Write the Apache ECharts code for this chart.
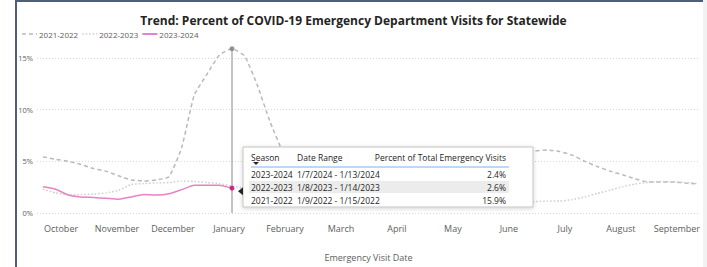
<!DOCTYPE html>
<html><head><meta charset="utf-8">
<script src="https://cdn.jsdelivr.net/npm/echarts@6/dist/echarts.min.js"></script>
<style>html,body{margin:0;padding:0;background:#fff}#c{width:707px;height:267px}</style>
</head><body><div id="c"></div>
<script>
const titleText = 'Trend: Percent of COVID-19 Emergency Department Visits for Statewide';
const seasons = ['2021-2022', '2022-2023', '2023-2024'];
const monthLabels = ['October','November','December','January','February','March','April','May','June','July','August','September'];
const yTicks = [0, 5, 10, 15];
// weekly values (%), week index 0..52 of each season
const s2122 = [5.43,5.2,5.0,4.7,4.3,4.05,3.6,3.2,3.1,3.2,3.5,6.3,11.4,13.4,15.3,15.9,15.2,12.4,8.9,6.0,4.3,2.9,2.0,1.5,1.3,1.2,1.1,1.0,1.0,1.1,1.2,1.4,1.8,2.3,2.9,3.6,4.3,4.9,5.7,6.0,6.1,5.95,5.6,5.0,4.5,4.05,3.7,3.3,3.0,3.0,3.0,2.9,2.8];
const s2223 = [2.3,1.95,1.75,1.78,1.83,1.95,2.2,2.75,2.85,2.9,2.95,3.1,3.05,2.95,2.85,2.6,2.4,2.2,2.0,1.85,1.7,1.6,1.5,1.45,1.4,1.35,1.3,1.3,1.25,1.2,1.15,1.1,1.05,1.0,0.95,0.9,0.85,0.95,1.05,1.1,1.15,1.15,1.3,1.55,1.9,2.2,2.55,2.8,2.95,3.05,3.0,2.95,2.85];
const s2324 = [2.53,2.3,1.75,1.56,1.5,1.42,1.33,1.55,1.8,1.74,1.86,2.26,2.68,2.68,2.68,2.4];
const hoverIndex = 15;
const tipHeader = ['Season', 'Date Range', 'Percent of Total Emergency Visits'];
const tipSeasons = ['2023-2024', '2022-2023', '2021-2022'];
const tipRanges = ['1/7/2024 - 1/13/2024', '1/8/2023 - 1/14/2023', '1/9/2022 - 1/15/2022'];
const tipData = [s2324, s2223, s2122];

const FONT = '"Open Sans", "Noto Sans", sans-serif';
const monthPos = monthLabels.map((m, k) => 1.43 + k * 4.443);
const xy = arr => arr.map((v, i) => [i, v]);
const styles = [
  {color: '#b9b9b9', width: 1.5, type: [4, 3], dash: [4, 3]},
  {color: '#cdcdcd', width: 1.5, type: [1.5, 2], dash: [1.5, 2]},
  {color: '#e882c6', width: 1.5, type: 'solid', dash: null}
];
const seriesData = [s2122, s2223, s2324];

const chart = echarts.init(document.getElementById('c'), null, {renderer: 'svg'});
const series = seasons.map((name, i) => ({
  name, type: 'line', data: xy(seriesData[i]), symbol: 'none', smooth: 0.15, clip: false,
  lineStyle: {color: styles[i].color, width: styles[i].width, type: styles[i].type},
  itemStyle: {color: styles[i].color}, z: i === 2 ? 3 : 2
}));
// hover guide line
series.push({name: 'guide', type: 'line', symbol: 'none', clip: false, z: 4,
  data: [[hoverIndex, s2122[hoverIndex]], [hoverIndex, 0]],
  lineStyle: {color: '#8a8a8a', width: 1}});
series.push({name: 'hover', type: 'scatter', symbolSize: 5, z: 5, clip: false,
  data: [{value: [hoverIndex, s2122[hoverIndex]], itemStyle: {color: '#7a7a7a'}},
         {value: [hoverIndex, s2324[hoverIndex]], itemStyle: {color: '#d0006f'}}]});

chart.setOption({
  animation: false,
  title: {text: titleText, left: 'center', top: 9,
    textStyle: {fontFamily: FONT, fontSize: 12, fontWeight: 'bold', color: '#252423'}},
  grid: {left: 37, right: 7, top: 58, bottom: 45},
  xAxis: {type: 'value', min: -0.476, max: 52.14,
    name: 'Emergency Visit Date', nameLocation: 'middle', nameGap: 40,
    nameTextStyle: {fontFamily: FONT, fontSize: 9, color: '#605e5c'},
    axisLine: {show: false}, axisTick: {show: false}, splitLine: {show: false},
    axisLabel: {customValues: monthPos, fontFamily: FONT, fontSize: 9, color: '#605e5c', margin: 11,
      formatter: v => { const k = monthPos.findIndex(p => Math.abs(p - v) < 0.01); return k >= 0 ? monthLabels[k] : ''; }}},
  yAxis: {type: 'value', min: yTicks[0], max: yTicks[yTicks.length - 1], interval: yTicks[1] - yTicks[0],
    axisLine: {show: false}, axisTick: {show: false},
    axisLabel: {formatter: '{value}%', fontFamily: FONT, fontSize: 7.5, color: '#605e5c', margin: 4},
    splitLine: {lineStyle: {color: '#d6d6d6', type: [1, 2], width: 1}}},
  series
});

const els = [];
// legend (drawn manually to show the line styles)
const ctx = document.createElement('canvas').getContext('2d');
const LEG_FS = 8;
ctx.font = LEG_FS + 'px "Open Sans"';
let lx = 22;
seasons.forEach((s, i) => {
  const st = styles[i];
  els.push({type: 'line', shape: {x1: lx, y1: 34, x2: lx + 15, y2: 34},
    style: {stroke: st.color, lineWidth: i === 2 ? 2 : 1.5, lineDash: st.dash}});
  els.push({type: 'text', x: lx + 17, y: 34,
    style: {text: s, fontFamily: FONT, fontSize: LEG_FS, fill: '#605e5c', verticalAlign: 'middle'}});
  lx += 17 + ctx.measureText(s).width + 4;
});

// tooltip box drawn as graphic, anchored to hovered point
const p = chart.convertToPixel({gridIndex: 0}, [hoverIndex, s2324[hoverIndex]]);
const bx = p[0] + 11, by = 147, bw = 290, bh = 60;
const tf = {fontFamily: FONT, fontSize: 8.5, fill: '#252423'};
els.push(
  {type: 'rect', shape: {x: bx, y: by, width: bw, height: bh},
    style: {fill: '#fff', stroke: '#c4c4c4', lineWidth: 1, shadowBlur: 4, shadowColor: 'rgba(0,0,0,0.18)', shadowOffsetY: 1}},
  {type: 'polygon', shape: {points: [[bx - 5, p[1] + 3], [bx, p[1] - 1], [bx, p[1] + 7]]}, style: {fill: '#252423'}},
  {type: 'rect', shape: {x: bx + 6, y: by + 34, width: 260, height: 12}, style: {fill: '#ececec'}},
  {type: 'line', shape: {x1: bx + 8, y1: by + 20, x2: bx + 266, y2: by + 20}, style: {stroke: '#7fb0e6', lineWidth: 1}},
  {type: 'polygon', shape: {points: [[bx + 10, by + 15], [bx + 16, by + 15], [bx + 13, by + 18]]}, style: {fill: '#252423'}},
  {type: 'text', x: bx + 8, y: by + 10, style: Object.assign({text: tipHeader[0], verticalAlign: 'middle'}, tf)},
  {type: 'text', x: bx + 54, y: by + 10, style: Object.assign({text: tipHeader[1], verticalAlign: 'middle'}, tf)},
  {type: 'text', x: bx + 263, y: by + 10, style: Object.assign({text: tipHeader[2], align: 'right', verticalAlign: 'middle'}, tf)}
);
tipSeasons.forEach((s, r) => {
  const y = by + 27 + r * 13;
  els.push({type: 'text', x: bx + 8, y: y, style: Object.assign({text: s, verticalAlign: 'middle'}, tf)});
  els.push({type: 'text', x: bx + 54, y: y, style: Object.assign({text: tipRanges[r], verticalAlign: 'middle'}, tf)});
  els.push({type: 'text', x: bx + 263, y: y, style: Object.assign({text: tipData[r][hoverIndex].toFixed(1) + '%', align: 'right', verticalAlign: 'middle'}, tf)});
});
// report frame
els.push({type: 'rect', shape: {x: 703, y: 0, width: 4, height: 267}, style: {fill: '#f2f2f2'}});
els.push({type: 'line', shape: {x1: 16, y1: 1, x2: 703, y2: 1}, style: {stroke: '#4f5d7e', lineWidth: 2}});
els.push({type: 'line', shape: {x1: 16, y1: 0, x2: 16, y2: 267}, style: {stroke: '#4f5d7e', lineWidth: 2}});
chart.setOption({graphic: els.map(e => Object.assign({silent: true, z: 100}, e))});
</script></body></html>
